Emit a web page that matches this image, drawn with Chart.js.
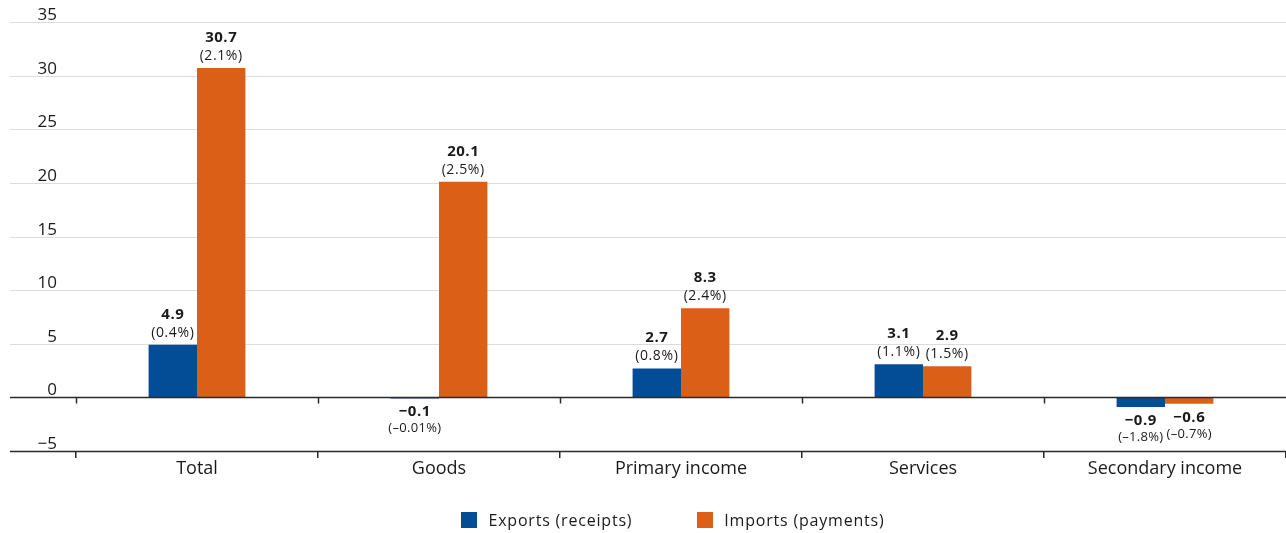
<!DOCTYPE html>
<html>
<head>
<meta charset="utf-8">
<script src="https://cdn.jsdelivr.net/npm/chart.js@4/dist/chart.umd.min.js"></script>
<style>
  html, body { margin: 0; padding: 0; background: #fff; }
  #wrap { width: 1286px; height: 533px; position: relative; }
</style>
</head>
<body>
<div id="wrap"><canvas id="c"></canvas></div>
<script>
// Change in current account flows, by component
const categories = ['Total', 'Goods', 'Primary income', 'Services', 'Secondary income'];
const exportsValues = [4.9, -0.1, 2.7, 3.1, -0.9];
const importsValues = [30.7, 20.1, 8.3, 2.9, -0.6];
const exportsShares = ['(0.4%)', '(\u20130.01%)', '(0.8%)', '(1.1%)', '(\u20131.8%)'];
const importsShares = ['(2.1%)', '(2.5%)', '(2.4%)', '(1.5%)', '(\u20130.7%)'];
const yTickValues = [-5, 0, 5, 10, 15, 20, 25, 30, 35];
const seriesNames = ['Exports (receipts)', 'Imports (payments)'];

const FONT = '"Open Sans", "Noto Sans", sans-serif';
const BLUE = '#034d97';
const ORANGE = '#dc5f18';
const INK = '#1a1a1a';

const fmtNum = v => (v < 0 ? '\u2212' + Math.abs(v).toFixed(1) : v.toFixed(1));
const fmtTick = v => (v < 0 ? '\u2212' + Math.abs(v) : String(v));

const overlay = {
  id: 'overlay',
  beforeDatasetsDraw(chart) {
    const { ctx, scales: { y } } = chart;
    ctx.save();
    ctx.font = '17px ' + FONT;
    ctx.fillStyle = INK;
    ctx.textAlign = 'right';
    ctx.textBaseline = 'alphabetic';
    yTickValues.forEach(v => {
      const py = Math.round(y.getPixelForValue(v));
      if (v !== 0 && v !== yTickValues[0]) {
        ctx.strokeStyle = '#dcdcdc';
        ctx.lineWidth = 1;
        ctx.beginPath();
        ctx.moveTo(10, py + 0.5);
        ctx.lineTo(chart.width, py + 0.5);
        ctx.stroke();
      }
      ctx.fillText(fmtTick(v), 57, py - 2);
    });
    ctx.restore();
  },
  afterDatasetsDraw(chart) {
    const { ctx, scales: { x, y } } = chart;
    ctx.save();
    // zero line and bottom axis line
    ctx.strokeStyle = '#2a2a2a';
    ctx.lineWidth = 1.5;
    [0, yTickValues[0]].forEach(v => {
      const py = Math.round(y.getPixelForValue(v)) + 0.5;
      ctx.beginPath();
      ctx.moveTo(10, py);
      ctx.lineTo(chart.width, py);
      ctx.stroke();
    });
    // category separators hanging from the zero line
    const zy = Math.round(y.getPixelForValue(0)) + 0.5;
    for (let i = 0; i < categories.length; i++) {
      const left = i === 0
        ? x.getPixelForValue(0) - (x.getPixelForValue(1) - x.getPixelForValue(0)) / 2
        : (x.getPixelForValue(i - 1) + x.getPixelForValue(i)) / 2;
      const px = Math.round(left) + 0.5;
      ctx.beginPath();
      ctx.moveTo(px, zy);
      ctx.lineTo(px, zy + 6);
      ctx.stroke();
    }
    // value labels: amount in bold, share in brackets
    const shares = [exportsShares, importsShares];
    chart.data.datasets.forEach((ds, di) => {
      const meta = chart.getDatasetMeta(di);
      meta.data.forEach((bar, j) => {
        const v = ds.data[j];
        ctx.fillStyle = INK;
        ctx.textAlign = 'center';
        ctx.textBaseline = 'alphabetic';
        const valueFont = 'bold 15px ' + FONT;
        const shareFont = '14px ' + FONT;
        if (v >= 0) {
          const top = Math.min(bar.y, bar.base);
          ctx.font = valueFont;
          ctx.letterSpacing = '0.5px';
          ctx.fillText(fmtNum(v), bar.x, top - 26);
          ctx.font = shareFont;
          ctx.letterSpacing = '0.6px';
          ctx.fillText(shares[di][j], bar.x, top - 8);
        } else {
          const bottom = Math.max(bar.y, bar.base);
          ctx.font = valueFont;
          ctx.letterSpacing = '0.5px';
          ctx.fillText(fmtNum(v), bar.x, bottom + 18);
          ctx.font = '13px ' + FONT;
          ctx.letterSpacing = '0.3px';
          ctx.fillText(shares[di][j], bar.x, bottom + 34);
        }
      });
    });
    ctx.restore();
  },
  afterDraw(chart) {
    // legend
    const { ctx } = chart;
    ctx.save();
    ctx.font = '16px ' + FONT;
    ctx.letterSpacing = '0.8px';
    ctx.textBaseline = 'middle';
    ctx.textAlign = 'left';
    const box = 16, gapText = 11, gapItem = 65, cy = 520;
    const widths = chart.data.datasets.map(ds => box + gapText + ctx.measureText(ds.label).width);
    const total = widths.reduce((a, b) => a + b, 0) + gapItem * (widths.length - 1);
    let cx = 673 - total / 2;
    chart.data.datasets.forEach((ds, i) => {
      ctx.fillStyle = ds.backgroundColor;
      ctx.fillRect(Math.round(cx), cy - box / 2, box, box);
      ctx.fillStyle = INK;
      ctx.fillText(ds.label, cx + box + gapText, cy + 1);
      cx += widths[i] + gapItem;
    });
    ctx.restore();
  }
};

new Chart(document.getElementById('c'), {
  type: 'bar',
  data: {
    labels: categories,
    datasets: [
      { label: seriesNames[0], data: exportsValues, backgroundColor: BLUE },
      { label: seriesNames[1], data: importsValues, backgroundColor: ORANGE }
    ]
  },
  options: {
    responsive: true,
    maintainAspectRatio: false,
    animation: false,
    layout: { padding: { left: 76, right: 0, top: 22, bottom: 0 } },
    datasets: { bar: { categoryPercentage: 0.4, barPercentage: 1.0 } },
    plugins: { legend: { display: false }, tooltip: { enabled: false } },
    scales: {
      x: {
        grid: {
          offset: true,
          drawOnChartArea: false,
          drawTicks: true,
          tickLength: 7,
          color: '#2a2a2a',
          lineWidth: 1.5
        },
        border: { display: false },
        ticks: { color: INK, font: { family: FONT, size: 18 }, padding: 0, maxRotation: 0 },
        afterFit(scale) { scale.height = 82; }
      },
      y: {
        display: false,
        min: yTickValues[0],
        max: yTickValues[yTickValues.length - 1]
      }
    }
  },
  plugins: [overlay]
});
</script>
</body>
</html>
